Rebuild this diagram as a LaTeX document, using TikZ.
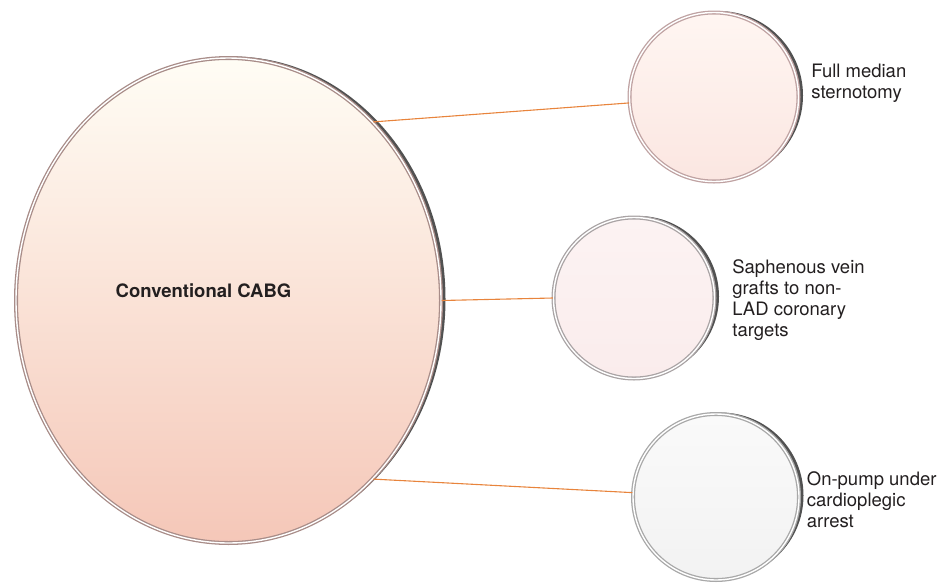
\documentclass[tikz,border=0pt]{standalone}
\usepackage{fontspec}
\setmainfont{TeX Gyre Heros}
\usetikzlibrary{positioning, shapes.geometric, shadows}
\definecolor{linkorange}{HTML}{E8843C}
\definecolor{textdark}{HTML}{231F20}
\definecolor{ringrose}{HTML}{A88C88}
\definecolor{ringpink}{HTML}{BFA2A2}
\definecolor{ringgray}{HTML}{A9A3A4}
\definecolor{ringsilver}{HTML}{A8A8A8}

\begin{document}
\begin{tikzpicture}[x=1pt, y=-1pt, font=\fontsize{18.5}{21}\selectfont,
    ring/.style = {draw=#1, line width=1.3pt, double=white, double distance=1.4pt,
        drop shadow={shadow xshift=4.5pt, shadow yshift=1.5pt, fill=black!85, opacity=0.8}},
    bigdisc/.style = {ellipse, ring=ringrose, inner sep=0pt, minimum width=425pt, minimum height=485pt},
    disc/.style = {circle, inner sep=0pt, minimum size=#1},
    txt/.style = {align=left, inner sep=0pt, text=textdark},
    link/.style = {linkorange, line width=1.1pt}]
    \useasboundingbox (0,0) rectangle (948,582);
    % main disc
    \node[bigdisc, top color={rgb,255:red,255;green,253;blue,245}, middle color={rgb,255:red,252;green,229;blue,216}, bottom color={rgb,255:red,245;green,199;blue,184}] (cabg) at (228.5,300.5) {};
    \node[txt, font=\fontsize{18.5}{21}\selectfont\bfseries] (cabgtext) at (203.5,290.5) {Conventional CABG};
    % features
    \node[disc=169pt, ring=ringpink, top color={rgb,255:red,255;green,246;blue,242}, bottom color={rgb,255:red,251;green,230;blue,225}] (sternotomy) at (714,97) {};
    \node[disc=161pt, ring=ringgray, top color={rgb,255:red,252;green,243;blue,243}, bottom color={rgb,255:red,250;green,236;blue,236}] (grafts) at (634,298) {};
    \node[disc=166pt, ring=ringsilver, top color={rgb,255:red,250;green,250;blue,250}, bottom color={rgb,255:red,242;green,242;blue,242}] (pump) at (716,497) {};
    \node[txt, right=12pt of sternotomy, yshift=13.5pt] (sternotomytext) {Full median\\sternotomy};
    \node[txt, right=17pt of grafts, yshift=-2.5pt] (graftstext) {Saphenous vein\\grafts to non-\\LAD coronary\\targets};
    \node[txt, right=7pt of pump, yshift=-3pt] (pumptext) {On-pump under\\cardioplegic\\arrest};
    % links
    \draw[link] (cabg.51) -- (sternotomy.184);
    \draw[link] (cabg.east) -- (grafts.west);
    \draw[link] (cabg.-51) -- (pump.177);
\end{tikzpicture}
\end{document}
